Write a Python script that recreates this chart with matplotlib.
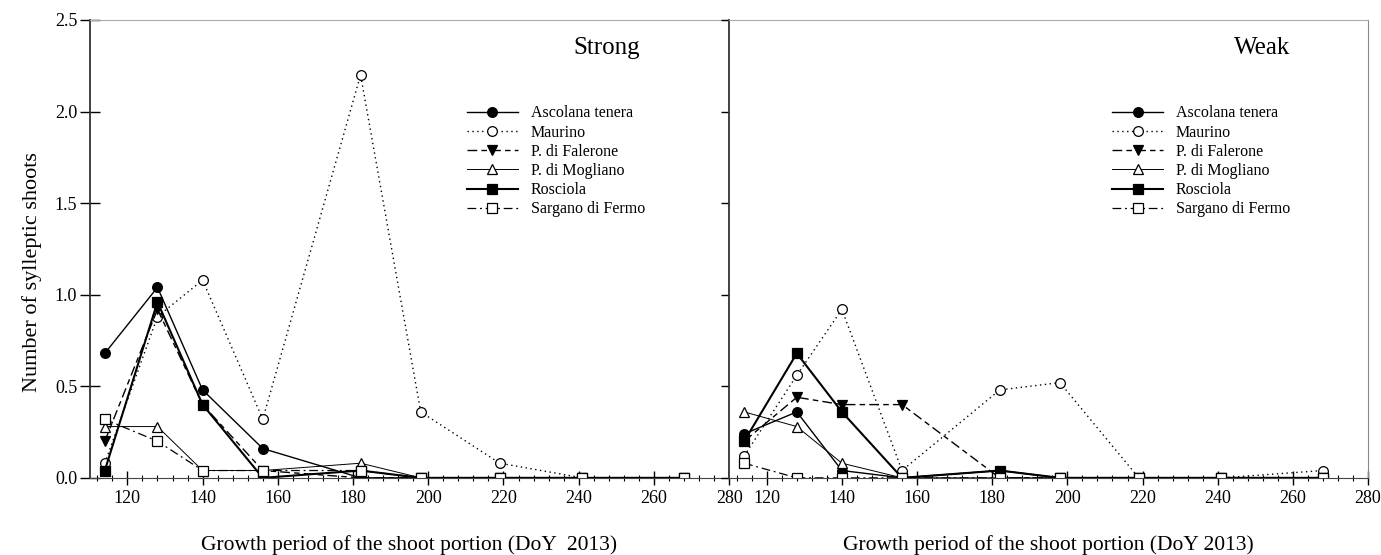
import matplotlib
matplotlib.use('Agg')
import matplotlib.pyplot as plt
from matplotlib.ticker import MultipleLocator

plt.rcParams['font.family'] = ['Liberation Serif', 'DejaVu Serif']

# day of year of each shoot portion
doy = [114, 128, 140, 156, 182, 198, 219, 241, 268]

cultivars = ['Ascolana tenera', 'Maurino', 'P. di Falerone',
             'P. di Mogliano', 'Rosciola', 'Sargano di Fermo']

# strong shoots
strong_ascolana = [0.68, 1.04, 0.48, 0.16, 0.00, 0.00, 0.00, 0.00, 0.00]
strong_maurino = [0.08, 0.88, 1.08, 0.32, 2.20, 0.36, 0.08, 0.00, 0.00]
strong_falerone = [0.20, 0.92, 0.40, 0.04, 0.00, 0.00, 0.00, 0.00, 0.00]
strong_mogliano = [0.28, 0.28, 0.04, 0.04, 0.08, 0.00, 0.00, 0.00, 0.00]
strong_rosciola = [0.04, 0.96, 0.40, 0.00, 0.04, 0.00, 0.00, 0.00, 0.00]
strong_sargano = [0.32, 0.20, 0.04, 0.04, 0.04, 0.00, 0.00, 0.00, 0.00]

# weak shoots
weak_ascolana = [0.24, 0.36, 0.04, 0.00, 0.04, 0.00, 0.00, 0.00, 0.00]
weak_maurino = [0.12, 0.56, 0.92, 0.04, 0.48, 0.52, 0.00, 0.00, 0.04]
weak_falerone = [0.20, 0.44, 0.40, 0.40, 0.00, 0.00, 0.00, 0.00, 0.00]
weak_mogliano = [0.36, 0.28, 0.08, 0.00, 0.00, 0.00, 0.00, 0.00, 0.00]
weak_rosciola = [0.20, 0.68, 0.36, 0.00, 0.04, 0.00, 0.00, 0.00, 0.00]
weak_sargano = [0.08, 0.00, 0.00, 0.00, 0.00, 0.00, 0.00, 0.00, 0.00]

strong = [strong_ascolana, strong_maurino, strong_falerone,
          strong_mogliano, strong_rosciola, strong_sargano]
weak = [weak_ascolana, weak_maurino, weak_falerone,
        weak_mogliano, weak_rosciola, weak_sargano]

styles = [
    dict(marker='o', mfc='k', ls='-', lw=1.0, ms=7),
    dict(marker='o', mfc='w', ls=(0, (1, 2.5)), lw=1.0, ms=7),
    dict(marker='v', mfc='k', ls=(0, (7, 3, 4, 3)), lw=1.0, ms=7),
    dict(marker='^', mfc='w', ls='-', lw=0.7, ms=7),
    dict(marker='s', mfc='k', ls='-', lw=1.5, ms=6.5),
    dict(marker='s', mfc='w', ls=(0, (7, 3, 1.5, 3)), lw=0.9, ms=7),
]

fig = plt.figure(figsize=(13.81, 5.55), dpi=100)
axL = fig.add_axes([0.065, 0.139, 0.463, 0.825])
axR = fig.add_axes([0.528, 0.139, 0.4626, 0.825])

panels = [(axL, strong, 'Strong', 0.809, 0.567, 'Growth period of the shoot portion (DoY  2013)'),
          (axR, weak, 'Weak', 0.834, 0.577, 'Growth period of the shoot portion (DoY 2013)')]

for ax, data, title, tx, lx, xlab in panels:
    for name, vals, st in zip(cultivars, data, styles):
        ax.plot(doy, vals, color='k', mec='k', mew=0.9, label=name, **st)

    ax.set_xlim(110, 280)
    ax.set_ylim(0, 2.5)
    ax.xaxis.set_major_locator(MultipleLocator(20))
    ax.xaxis.set_minor_locator(MultipleLocator(4))
    ax.yaxis.set_major_locator(MultipleLocator(0.5))
    ax.tick_params(axis='x', which='major', direction='inout', length=10,
                   width=1, labelsize=13, pad=4)
    ax.tick_params(axis='x', which='minor', direction='inout', length=5, width=0.8)
    ax.set_xlabel(xlab, fontsize=15.5, labelpad=20)
    ax.text(tx, 0.925, title, transform=ax.transAxes, fontsize=18, ha='center')

    ax.spines['top'].set_color('#aaaaaa')
    ax.spines['bottom'].set_color('#444444')
    ax.spines['left'].set_color('#333333')
    ax.spines['left'].set_linewidth(1.3)

    ax.legend(loc='upper left', bbox_to_anchor=(lx, 0.845), frameon=False,
              fontsize=11.5, handlelength=3.2, labelspacing=0.2,
              handletextpad=0.8)

axL.spines['right'].set_visible(False)
axR.spines['right'].set_color('#888888')

axL.yaxis.set_major_formatter(plt.FormatStrFormatter('%.1f'))
axL.tick_params(axis='y', direction='inout', length=14, width=1, labelsize=13, pad=2)
axL.set_ylabel('Number of sylleptic shoots', fontsize=16)
axL.yaxis.set_label_coords(-0.075, 0.45)

axR.tick_params(axis='y', direction='out', length=6, width=1, labelleft=False)

fig.savefig('out.png', dpi=100)
